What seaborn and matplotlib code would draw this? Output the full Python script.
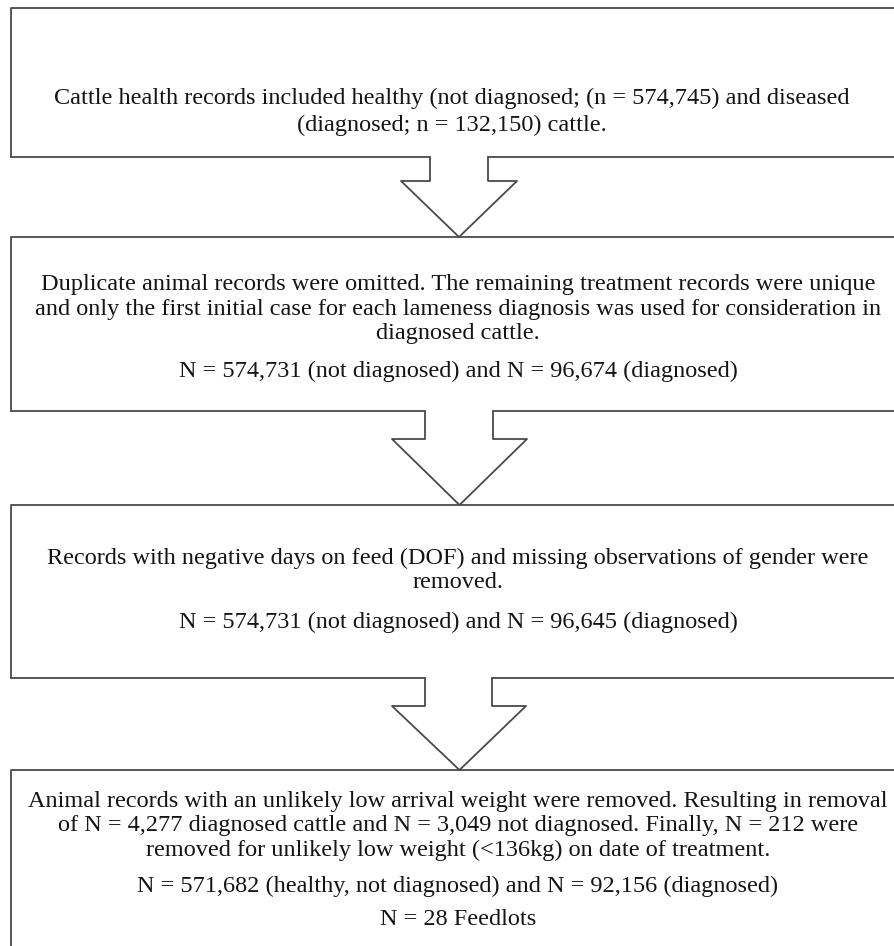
import matplotlib
matplotlib.use("Agg")
import matplotlib.pyplot as plt
import seaborn as sns

# flow steps: description text and counts left after each step
step_text = [
    "Cattle health records included healthy (not diagnosed; (n = {nd}) and diseased\n(diagnosed; n = {d}) cattle.",
    "Duplicate animal records were omitted. The remaining treatment records were unique\n"
    "and only the first initial case for each lameness diagnosis was used for consideration in\n"
    "diagnosed cattle.",
    "Records with negative days on feed (DOF) and missing observations of gender were\nremoved.",
    "Animal records with an unlikely low arrival weight were removed. Resulting in removal\n"
    "of N = 4,277 diagnosed cattle and N = 3,049 not diagnosed. Finally, N = 212 were\n"
    "removed for unlikely low weight (<136kg) on date of treatment.",
]
not_diagnosed = [574745, 574731, 574731, 571682]
diagnosed = [132150, 96674, 96645, 92156]
n_feedlots = 28

sns.set_style("white")
plt.rcParams["font.family"] = ["Liberation Serif", "DejaVu Serif"]

fig = plt.figure(figsize=(8.94, 9.46), dpi=100)
ax = fig.add_axes([0, 0, 1, 1])
ax.set_xlim(0, 894)
ax.set_ylim(946, 0)
ax.axis("off")

line_col = "#4a4a4a"
lw = 1.3

# box extents (top, bottom) in pixel units; right side runs off the page
boxes = [(8, 157), (237, 411), (505, 678), (770, 990)]
left, right = 11, 910
# arrows: stem left/right, wing y, wing left/right, tip x
arrows = [(430, 488, 181, 401, 517, 459),
          (425, 493, 439, 392, 527, 459.5),
          (425, 492, 706, 392, 526, 459.5)]

for i, (top, bot) in enumerate(boxes):
    sns.lineplot(x=[right, left, left], y=[top, top, bot], sort=False,
                 estimator=None, color=line_col, lw=lw, ax=ax)
    if i < len(arrows):
        sl, sr, wy, wl, wr, tx = arrows[i]
        tip_y = boxes[i + 1][0]
        sns.lineplot(x=[left, sl], y=[bot, bot], sort=False, estimator=None,
                     color=line_col, lw=lw, ax=ax)
        sns.lineplot(x=[sr, right], y=[bot, bot], sort=False, estimator=None,
                     color=line_col, lw=lw, ax=ax)
        sns.lineplot(x=[sl, sl, wl, tx, wr, sr, sr],
                     y=[bot, wy, wy, tip_y, wy, wy, bot],
                     sort=False, estimator=None, color=line_col, lw=lw, ax=ax)

fs = 17.45
cx = 458
txt_kw = dict(ha="center", va="center", fontsize=fs, color="#141414")

ax.text(452, 112, step_text[0].format(nd=f"{not_diagnosed[0]:,}", d=f"{diagnosed[0]:,}"),
        linespacing=1.4, **txt_kw)

ax.text(cx, 309, step_text[1], linespacing=1.2, **txt_kw)
ax.text(cx, 371, f"N = {not_diagnosed[1]:,} (not diagnosed) and N = {diagnosed[1]:,} (diagnosed)",
        **txt_kw)

ax.text(cx, 570.5, step_text[2], linespacing=1.2, **txt_kw)
ax.text(cx, 622, f"N = {not_diagnosed[2]:,} (not diagnosed) and N = {diagnosed[2]:,} (diagnosed)",
        **txt_kw)

ax.text(cx, 826, step_text[3], linespacing=1.2, **txt_kw)
ax.text(cx, 886, f"N = {not_diagnosed[3]:,} (healthy, not diagnosed) and N = {diagnosed[3]:,} (diagnosed)",
        **txt_kw)
ax.text(cx, 919, f"N = {n_feedlots} Feedlots", **txt_kw)

fig.savefig("out.png", dpi=100)
